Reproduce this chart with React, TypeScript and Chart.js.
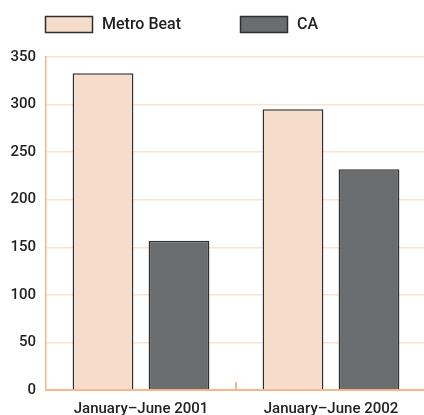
import React, { useEffect, useRef } from "react";
import { Chart, registerables } from "chart.js";

Chart.register(...registerables);

const categories = ["January\u2013June 2001", "January\u2013June 2002"];
const metroBeat = [333, 295];
const ca = [157, 232];
const seriesNames = ["Metro Beat", "CA"];
const yMax = 350;
const yStep = 50;

const peachFill = "#f5dccb";
const grayFill = "#6b6c6e";
const barEdge = "#2f2f2f";
const axisOrange = "#f4b88b";
const gridPeach = "#fae3d4";
const textColor = "#222222";
const fontFamily = "Roboto, 'Noto Sans', sans-serif";

// Legend drawn above the plot: swatch + label for each dataset
const topLegend = {
  id: "topLegend",
  afterDraw(chart: Chart) {
    const { ctx } = chart;
    const starts = [45, 240];
    ctx.save();
    chart.data.datasets.forEach((ds: any, i: number) => {
      const x = starts[i];
      const y = 16;
      ctx.fillStyle = ds.backgroundColor;
      ctx.fillRect(x, y, 48, 17);
      ctx.strokeStyle = barEdge;
      ctx.lineWidth = 1.5;
      ctx.strokeRect(x + 0.5, y + 0.5, 47, 16);
      ctx.fillStyle = textColor;
      ctx.font = `500 16px ${fontFamily}`;
      ctx.textBaseline = "middle";
      ctx.textAlign = "left";
      ctx.fillText(ds.label, x + 57, y + 9);
    });
    ctx.restore();
  },
};

// Short upward tick on the x axis between the two category groups
const groupDivider = {
  id: "groupDivider",
  afterDraw(chart: Chart) {
    const xs: any = chart.scales.x;
    const bottom = chart.chartArea.bottom;
    const ctx = chart.ctx;
    ctx.save();
    ctx.strokeStyle = axisOrange;
    ctx.lineWidth = 2;
    for (let i = 0; i < categories.length - 1; i++) {
      const px = (xs.getPixelForValue(i) + xs.getPixelForValue(i + 1)) / 2;
      ctx.beginPath();
      ctx.moveTo(px, bottom - 8);
      ctx.lineTo(px, bottom);
      ctx.stroke();
    }
    ctx.restore();
  },
};

export default function App() {
  const ref = useRef<HTMLCanvasElement | null>(null);

  useEffect(() => {
    if (!ref.current) return;
    const chart = new Chart(ref.current, {
      type: "bar",
      data: {
        labels: categories,
        datasets: [
          {
            label: seriesNames[0],
            data: metroBeat,
            backgroundColor: peachFill,
            borderColor: barEdge,
            borderWidth: 1.5,
            barPercentage: 0.8,
            categoryPercentage: 0.8,
          },
          {
            label: seriesNames[1],
            data: ca,
            backgroundColor: grayFill,
            borderColor: barEdge,
            borderWidth: 1.5,
            barPercentage: 0.8,
            categoryPercentage: 0.8,
          },
        ],
      },
      options: {
        responsive: false,
        animation: false,
        layout: { padding: { top: 57, left: 0, right: 0, bottom: 0 } },
        plugins: {
          legend: { display: false },
          tooltip: { enabled: false },
        },
        scales: {
          x: {
            grid: { display: false },
            border: { color: axisOrange, width: 2 },
            ticks: {
              color: textColor,
              font: { family: fontFamily, size: 15, weight: "500" },
              padding: 2,
              maxRotation: 0,
            },
            afterFit(scale: any) {
              scale.height = 25;
            },
          },
          y: {
            min: 0,
            max: yMax,
            grid: { color: gridPeach, lineWidth: 1.5, drawTicks: false },
            border: { color: axisOrange, width: 1.5 },
            ticks: {
              stepSize: yStep,
              color: textColor,
              font: { family: fontFamily, size: 15, weight: "500" },
              padding: 10,
            },
            afterFit(scale: any) {
              scale.width = 46;
            },
          },
        },
      },
      plugins: [topLegend, groupDivider],
    });
    return () => chart.destroy();
  }, []);

  return (
    <div
      style={{
        position: "absolute",
        left: 0,
        top: 0,
        width: 424,
        height: 415,
        overflow: "hidden",
        background: "#ffffff",
      }}
    >
      <canvas ref={ref} width={426} height={415} style={{ display: "block" }} />
    </div>
  );
}
